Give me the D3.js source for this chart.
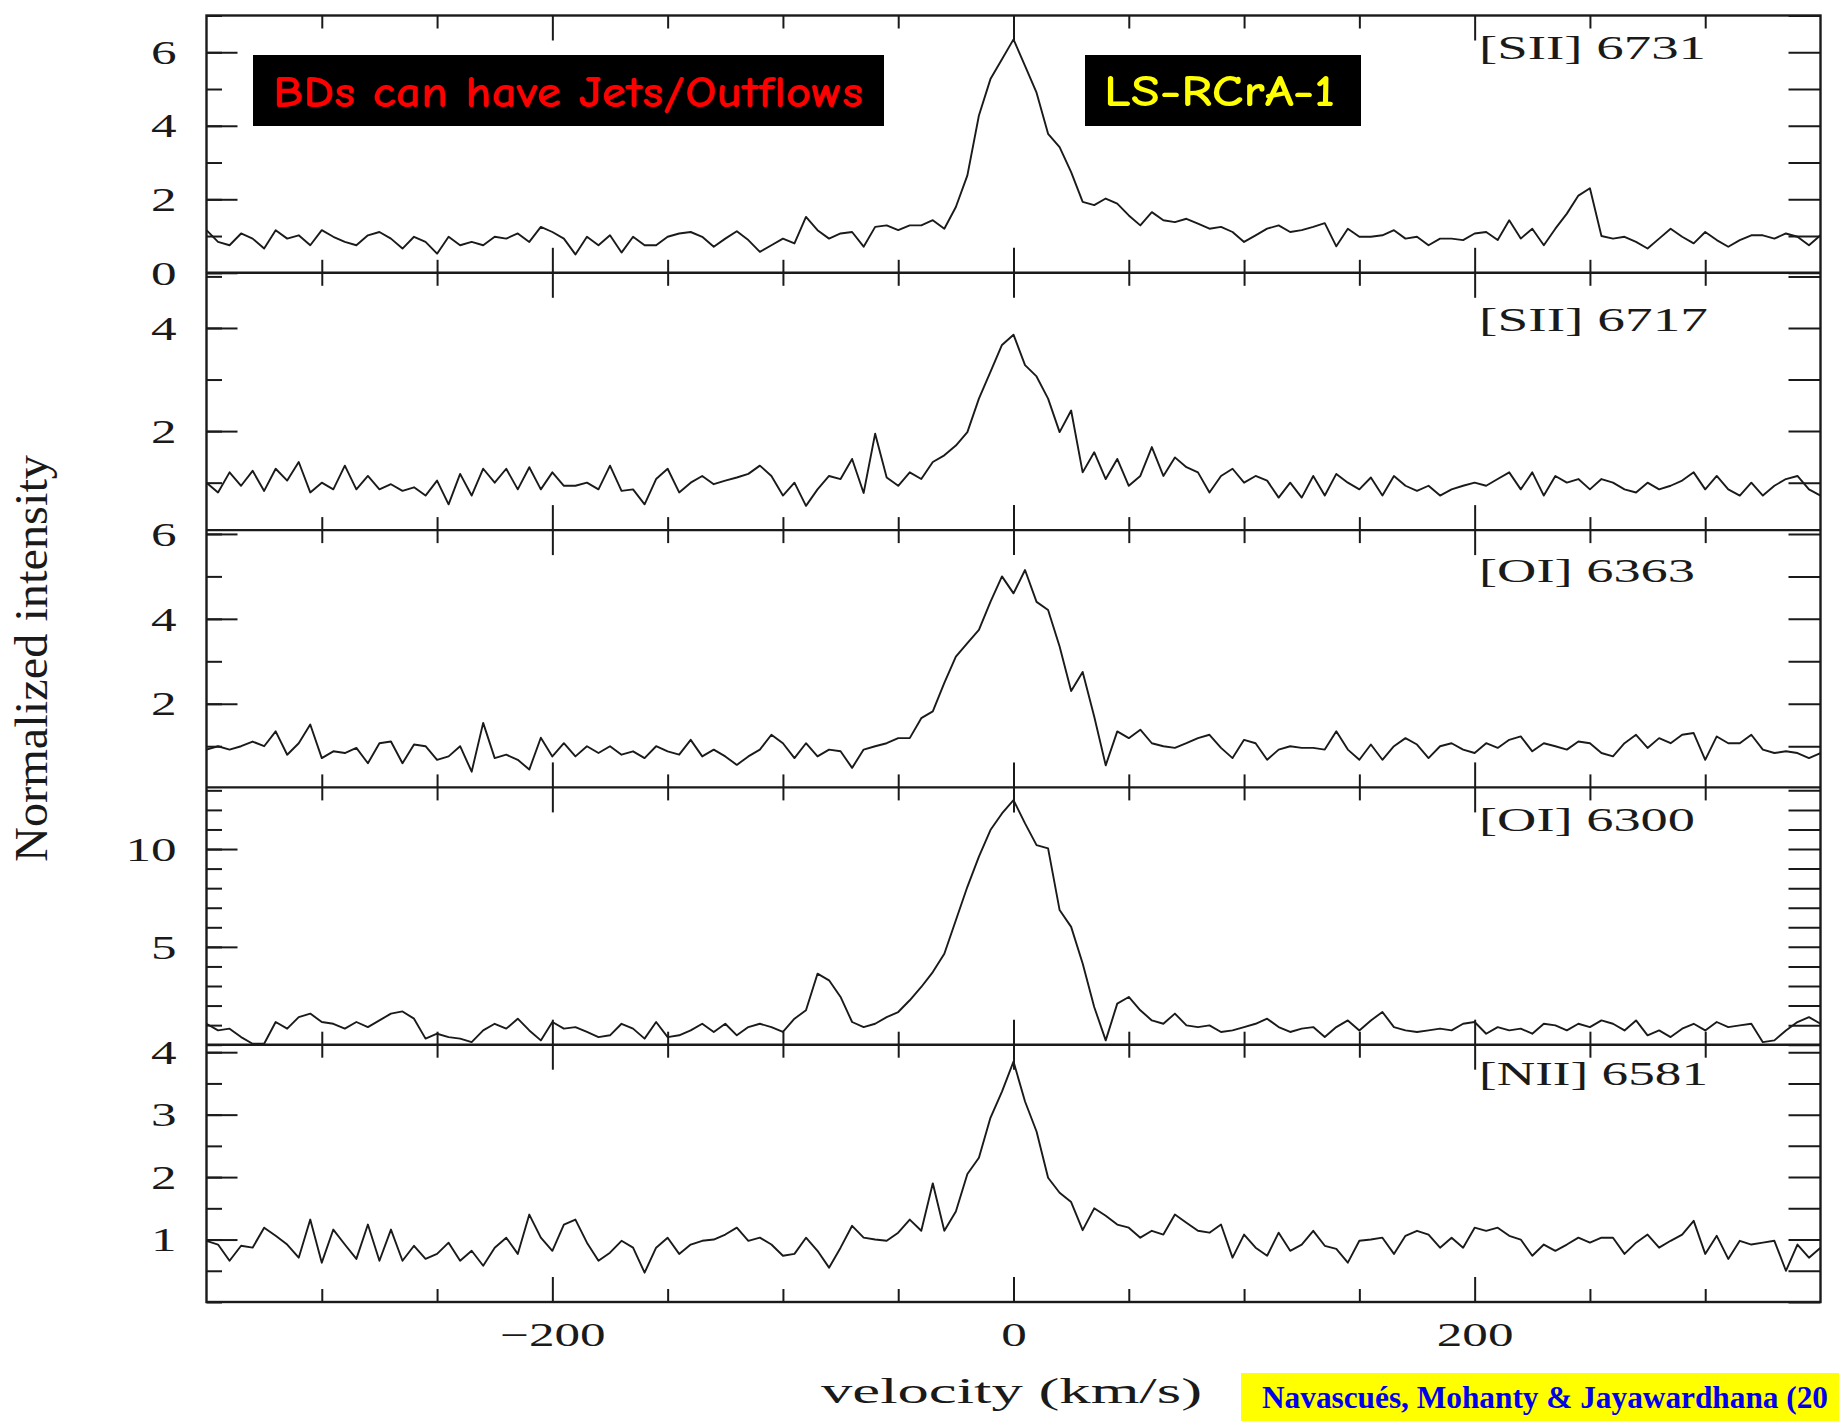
<!DOCTYPE html>
<html>
<head>
<meta charset="utf-8">
<script src="https://cdn.jsdelivr.net/npm/d3@7"></script>
<style>
  html, body { margin: 0; padding: 0; background: #fff; }
  svg { display: block; }
</style>
</head>
<body>
<script>
// Emission-line profiles of LS-RCrA-1, normalized intensity vs. velocity (km/s)

// velocity grid, km/s
const velocity = d3.range(-350, 351, 5);

// [SII] 6731
const sii6731 = [
  1.16, 0.84, 0.75, 1.07, 0.93, 0.66, 1.16, 0.93, 1.02, 0.75,
  1.16, 0.98, 0.84, 0.75, 1.02, 1.11, 0.93, 0.66, 0.98, 0.84,
  0.52, 0.98, 0.75, 0.84, 0.75, 0.98, 0.93, 1.07, 0.84, 1.25,
  1.11, 0.93, 0.50, 0.98, 0.75, 1.02, 0.55, 0.98, 0.75, 0.75,
  0.98, 1.07, 1.11, 0.98, 0.71, 0.93, 1.13, 0.89, 0.57, 0.75,
  0.93, 0.80, 1.52, 1.16, 0.93, 1.07, 1.11, 0.71, 1.25, 1.29,
  1.16, 1.29, 1.29, 1.43, 1.20, 1.79, 2.65, 4.28, 5.27, 5.81,
  6.35, 5.63, 4.90, 3.78, 3.42, 2.74, 1.93, 1.84, 2.02, 1.88,
  1.56, 1.29, 1.65, 1.43, 1.38, 1.47, 1.34, 1.20, 1.25, 1.11,
  0.84, 1.02, 1.20, 1.29, 1.11, 1.16, 1.25, 1.35, 0.72, 1.20,
  0.98, 0.98, 1.02, 1.16, 0.93, 0.98, 0.75, 0.93, 0.93, 0.89,
  1.07, 1.11, 0.89, 1.43, 0.93, 1.20, 0.75, 1.20, 1.61, 2.10,
  2.30, 1.00, 0.93, 0.98, 0.84, 0.66, 0.93, 1.20, 0.98, 0.80,
  1.11, 0.89, 0.71, 0.89, 1.02, 1.02, 0.93, 1.07, 0.98, 0.75,
  1.02
];

// [SII] 6717
const sii6717 = [
  1.00, 0.81, 1.20, 0.94, 1.23, 0.84, 1.27, 1.04, 1.40, 0.81,
  1.00, 0.87, 1.33, 0.87, 1.13, 0.87, 0.97, 0.84, 0.91, 0.75,
  1.04, 0.58, 1.17, 0.75, 1.27, 1.00, 1.27, 0.87, 1.30, 0.87,
  1.20, 0.94, 0.94, 1.00, 0.87, 1.33, 0.84, 0.87, 0.58, 1.07,
  1.27, 0.81, 1.00, 1.13, 0.97, 1.04, 1.10, 1.17, 1.33, 1.13,
  0.75, 1.00, 0.55, 0.87, 1.13, 1.07, 1.46, 0.80, 1.95, 1.10,
  0.94, 1.20, 1.07, 1.40, 1.53, 1.72, 1.98, 2.63, 3.15, 3.67,
  3.87, 3.28, 3.06, 2.63, 1.98, 2.40, 1.20, 1.59, 1.07, 1.46,
  0.94, 1.13, 1.69, 1.13, 1.49, 1.30, 1.20, 0.81, 1.13, 1.27,
  1.00, 1.13, 1.04, 0.71, 1.00, 0.71, 1.13, 0.75, 1.17, 1.00,
  0.87, 1.10, 0.75, 1.13, 0.94, 0.84, 0.94, 0.75, 0.87, 0.94,
  1.00, 0.94, 1.07, 1.20, 0.87, 1.20, 0.75, 1.13, 1.00, 1.07,
  0.87, 1.07, 1.00, 0.87, 0.81, 1.00, 0.87, 0.94, 1.04, 1.20,
  0.87, 1.13, 0.87, 0.75, 1.00, 0.75, 0.94, 1.07, 1.13, 0.87,
  0.75
];

// [OI] 6363
const oi6363 = [
  0.92, 1.00, 0.92, 1.00, 1.11, 1.00, 1.35, 0.80, 1.07, 1.51,
  0.72, 0.88, 0.84, 0.96, 0.60, 1.07, 1.11, 0.60, 1.04, 1.00,
  0.68, 0.76, 1.00, 0.40, 1.55, 0.72, 0.80, 0.68, 0.45, 1.20,
  0.76, 1.07, 0.76, 1.00, 0.84, 1.00, 0.80, 0.88, 0.72, 1.00,
  0.88, 0.80, 1.15, 0.76, 0.92, 0.76, 0.56, 0.76, 0.92, 1.27,
  1.07, 0.72, 1.07, 0.76, 0.92, 0.88, 0.49, 0.92, 1.00, 1.07,
  1.19, 1.19, 1.66, 1.82, 2.49, 3.11, 3.43, 3.74, 4.40, 5.00,
  4.60, 5.15, 4.40, 4.21, 3.35, 2.30, 2.75, 1.70, 0.55, 1.35,
  1.19, 1.39, 1.07, 1.00, 0.96, 1.07, 1.19, 1.27, 0.96, 0.72,
  1.15, 1.07, 0.68, 0.92, 1.00, 0.96, 0.96, 0.92, 1.35, 0.92,
  0.68, 1.04, 0.68, 1.00, 1.19, 1.04, 0.72, 1.00, 1.07, 0.92,
  0.84, 1.07, 0.96, 1.15, 1.23, 0.88, 1.07, 1.00, 0.92, 1.11,
  1.07, 0.84, 0.76, 1.07, 1.27, 0.96, 1.19, 1.07, 1.27, 1.31,
  0.68, 1.23, 1.07, 1.07, 1.27, 0.92, 0.84, 0.88, 0.84, 0.72,
  0.84
];

// [OI] 6300
const oi6300 = [
  1.07, 0.73, 0.82, 0.39, 0.05, 0.05, 1.16, 0.82, 1.41, 1.59,
  1.16, 1.07, 0.82, 1.16, 0.90, 1.24, 1.59, 1.70, 1.33, 0.31,
  0.56, 0.39, 0.31, 0.13, 0.73, 1.07, 0.82, 1.33, 0.73, 0.22,
  1.16, 0.82, 0.90, 0.65, 0.39, 0.48, 1.07, 0.82, 0.31, 1.16,
  0.39, 0.48, 0.73, 1.07, 0.65, 1.07, 0.48, 0.90, 1.07, 0.90,
  0.65, 1.33, 1.76, 3.63, 3.29, 2.44, 1.16, 0.90, 1.07, 1.41,
  1.67, 2.27, 2.95, 3.71, 4.65, 6.36, 8.07, 9.61, 10.97, 11.82,
  12.50, 11.31, 10.20, 10.03, 6.88, 6.02, 4.15, 1.93, 0.22, 2.10,
  2.44, 1.76, 1.24, 1.07, 1.59, 0.99, 0.90, 0.99, 0.65, 0.73,
  0.90, 1.07, 1.33, 0.90, 0.65, 0.82, 0.90, 0.39, 0.90, 1.24,
  0.73, 1.24, 1.67, 0.90, 0.73, 0.65, 0.73, 0.82, 0.73, 1.07,
  1.16, 0.56, 0.90, 0.73, 0.82, 0.56, 1.07, 0.99, 0.73, 1.07,
  0.90, 1.24, 1.07, 0.73, 1.24, 0.48, 0.73, 0.39, 0.82, 1.07,
  0.73, 1.16, 0.90, 0.99, 1.07, 0.13, 0.22, 0.73, 1.16, 1.41,
  1.07
];

// [NII] 6581
const nii6581 = [
  0.98, 0.92, 0.66, 0.90, 0.87, 1.19, 1.06, 0.92, 0.71, 1.32,
  0.63, 1.16, 0.92, 0.69, 1.24, 0.66, 1.16, 0.66, 0.90, 0.69,
  0.77, 0.95, 0.66, 0.82, 0.58, 0.87, 1.03, 0.77, 1.40, 1.03,
  0.82, 1.24, 1.32, 0.95, 0.66, 0.79, 0.98, 0.87, 0.47, 0.87,
  1.03, 0.77, 0.92, 0.98, 1.00, 1.08, 1.19, 0.98, 1.03, 0.92,
  0.74, 0.77, 1.03, 0.82, 0.55, 0.87, 1.22, 1.03, 1.00, 0.98,
  1.11, 1.32, 1.14, 1.90, 1.14, 1.45, 2.05, 2.31, 2.95, 3.37,
  3.85, 3.21, 2.73, 1.99, 1.75, 1.60, 1.15, 1.50, 1.38, 1.24,
  1.19, 1.03, 1.14, 1.08, 1.40, 1.27, 1.14, 1.11, 1.24, 0.71,
  1.08, 0.87, 0.74, 1.11, 0.82, 0.92, 1.14, 0.90, 0.85, 0.63,
  0.98, 1.00, 1.03, 0.77, 1.06, 1.14, 1.08, 0.87, 1.03, 0.87,
  1.19, 1.14, 1.19, 1.06, 1.00, 0.74, 0.92, 0.82, 0.92, 1.03,
  0.95, 1.03, 1.03, 0.77, 0.95, 1.08, 0.87, 0.98, 1.08, 1.30,
  0.77, 1.06, 0.69, 0.98, 0.92, 0.95, 0.98, 0.50, 0.92, 0.71,
  0.87
];

// panel titles, top to bottom
const lineNames = ["[SII] 6731", "[SII] 6717", "[OI] 6363", "[OI] 6300", "[NII] 6581"];
const lineSeries = [sii6731, sii6717, oi6363, oi6300, nii6581];

// intensity range shown in each panel
const yDomains = [[0, 7], [0.08, 5.07], [0.03, 6.09], [0, 13.15], [0, 4.12]];

// labelled (long) and unlabelled (short) intensity ticks
const yMajorTicks = [[0, 2, 4, 6], [2, 4], [2, 4, 6], [5, 10], [1, 2, 3, 4]];
const yMinorTicks = [
  [0, 1, 2, 3, 4, 5, 6, 7],
  [1, 2, 3, 4, 5],
  [1, 2, 3, 4, 5, 6],
  [0, 1, 2, 3, 4, 5, 6, 7, 8, 9, 10, 11, 12, 13],
  [0, 0.5, 1, 1.5, 2, 2.5, 3, 3.5, 4]
];

// velocity ticks
const xMajorTicks = [-200, 0, 200];
const xMinorTicks = [-300, -250, -150, -100, -50, 50, 100, 150, 250, 300];

// ---------------------------------------------------------------- layout
const W = 1839, H = 1421;
const frame = { left: 206.5, right: 1820.5, top: 15.5, bottom: 1302 };
const panelH = (frame.bottom - frame.top) / lineNames.length;
const ink = "#1a1a1a";
const tickFont = "'Liberation Serif', 'DejaVu Serif', serif";
const glyphStretch = 1.55;

// panel title placement: baseline below panel top, rendered width
const titleBaseline = [43, 58, 52, 44, 40];
const titleWidth = [227, 229, 216, 216, 229];

const svg = d3.select("body").append("svg")
  .attr("width", W).attr("height", H)
  .attr("viewBox", `0 0 ${W} ${H}`);

svg.append("rect").attr("width", W).attr("height", H).attr("fill", "#fff");

const x = d3.scaleLinear().domain([-350, 350]).range([frame.left, frame.right]);

function styleTicks(g, width) {
  g.select(".domain").remove();
  g.selectAll(".tick line").attr("stroke", ink).attr("stroke-width", width);
}

lineSeries.forEach((series, i) => {
  const top = frame.top + i * panelH;
  const bot = top + panelH;
  const y = d3.scaleLinear().domain(yDomains[i]).range([bot, top]);
  const g = svg.append("g").attr("class", "panel");

  // spectrum
  g.append("path")
    .datum(series)
    .attr("fill", "none")
    .attr("stroke", ink)
    .attr("stroke-width", 1.9)
    .attr("stroke-linejoin", "round")
    .attr("d", d3.line()
      .x((d, j) => x(velocity[j]))
      .y(d => y(d)));

  // left: short ticks
  g.append("g")
    .attr("transform", `translate(${frame.left},0)`)
    .call(d3.axisLeft(y).tickValues(yMinorTicks[i]).tickSize(-15.5).tickFormat(""))
    .call(a => styleTicks(a, 2));

  // left: long ticks with numbers
  g.append("g")
    .attr("transform", `translate(${frame.left},0)`)
    .call(d3.axisLeft(y).tickValues(yMajorTicks[i]).tickSize(-31).tickPadding(30)
      .tickFormat(d3.format("d")))
    .call(a => {
      styleTicks(a, 2);
      a.selectAll(".tick text")
        .attr("x", -30 / glyphStretch)
        .attr("dy", "0.34em")
        .attr("transform", `scale(${glyphStretch},1)`)
        .attr("fill", ink)
        .style("font-family", tickFont)
        .style("font-size", "33px");
    });

  // right ticks
  g.append("g")
    .attr("transform", `translate(${frame.right},0)`)
    .call(d3.axisRight(y).tickValues(yMinorTicks[i]).tickSize(-32).tickFormat(""))
    .call(a => styleTicks(a, 2));

  // velocity ticks along top and bottom edges of the panel
  [[d3.axisTop, top], [d3.axisBottom, bot]].forEach(([axisFn, yy]) => {
    g.append("g")
      .attr("transform", `translate(0,${yy})`)
      .call(axisFn(x).tickValues(xMinorTicks).tickSize(-13).tickFormat(""))
      .call(a => styleTicks(a, 2));
    g.append("g")
      .attr("transform", `translate(0,${yy})`)
      .call(axisFn(x).tickValues(xMajorTicks).tickSize(-25).tickFormat(""))
      .call(a => styleTicks(a, 2));
  });

  // line identification
  g.append("text")
    .attr("x", 1479)
    .attr("y", top + titleBaseline[i])
    .attr("textLength", titleWidth[i])
    .attr("lengthAdjust", "spacingAndGlyphs")
    .attr("fill", ink)
    .style("font-family", tickFont)
    .style("font-size", "33px")
    .text(lineNames[i]);
});

// frame and panel separators
svg.append("rect")
  .attr("x", frame.left).attr("y", frame.top)
  .attr("width", frame.right - frame.left).attr("height", frame.bottom - frame.top)
  .attr("fill", "none").attr("stroke", ink).attr("stroke-width", 2.4);

svg.append("g").selectAll("line")
  .data(d3.range(1, lineNames.length))
  .join("line")
  .attr("x1", frame.left).attr("x2", frame.right)
  .attr("y1", k => frame.top + k * panelH).attr("y2", k => frame.top + k * panelH)
  .attr("stroke", ink).attr("stroke-width", 2.4);

// velocity labels under the bottom panel
svg.append("g")
  .attr("transform", `translate(0,${frame.bottom})`)
  .call(d3.axisBottom(x).tickValues(xMajorTicks).tickSize(0))
  .call(a => {
    a.select(".domain").remove();
    a.selectAll(".tick text")
      .attr("y", 44).attr("dy", 0)
      .attr("transform", `scale(${glyphStretch},1)`)
      .attr("fill", ink)
      .style("font-family", tickFont)
      .style("font-size", "33px");
  });

// axis titles
svg.append("text")
  .attr("x", 1011.5).attr("y", 1403)
  .attr("text-anchor", "middle")
  .attr("textLength", 381).attr("lengthAdjust", "spacingAndGlyphs")
  .attr("fill", ink)
  .style("font-family", tickFont).style("font-size", "36px")
  .text("velocity (km/s)");

svg.append("text")
  .attr("transform", "translate(47,658.5) rotate(-90)")
  .attr("text-anchor", "middle")
  .attr("textLength", 407).attr("lengthAdjust", "spacingAndGlyphs")
  .attr("fill", ink)
  .style("font-family", tickFont).style("font-size", "47px")
  .text("Normalized intensity");

// annotation boxes
const calloutFont = "'Comic Sans MS', 'Comic Neue', Lato, 'DejaVu Sans', sans-serif";

svg.append("rect").attr("x", 253).attr("y", 55).attr("width", 631).attr("height", 71).attr("fill", "#000");
svg.append("text")
  .attr("x", 273).attr("y", 107)
  .attr("textLength", 590).attr("lengthAdjust", "spacingAndGlyphs")
  .attr("fill", "#ff0000")
  .style("font-family", calloutFont).style("font-weight", "900").style("font-size", "44px")
  .text("BDs can have Jets/Outflows");

svg.append("rect").attr("x", 1085).attr("y", 55).attr("width", 276).attr("height", 71).attr("fill", "#000");
svg.append("text")
  .attr("x", 1104).attr("y", 106)
  .attr("textLength", 231).attr("lengthAdjust", "spacingAndGlyphs")
  .attr("fill", "#ffff00")
  .style("font-family", calloutFont).style("font-weight", "900").style("font-size", "44px")
  .text("LS-RCrA-1");

// reference credit
svg.append("rect").attr("x", 1241).attr("y", 1373).attr("width", W - 1241).attr("height", H - 1373).attr("fill", "#ffff00");
svg.append("text")
  .attr("x", 1262).attr("y", 1408)
  .attr("textLength", 566).attr("lengthAdjust", "spacingAndGlyphs")
  .attr("fill", "#0000ee")
  .style("font-family", "'Liberation Serif', 'Times New Roman', serif")
  .style("font-weight", "bold").style("font-size", "32px")
  .text("Navascués, Mohanty & Jayawardhana (20");
</script>
</body>
</html>
